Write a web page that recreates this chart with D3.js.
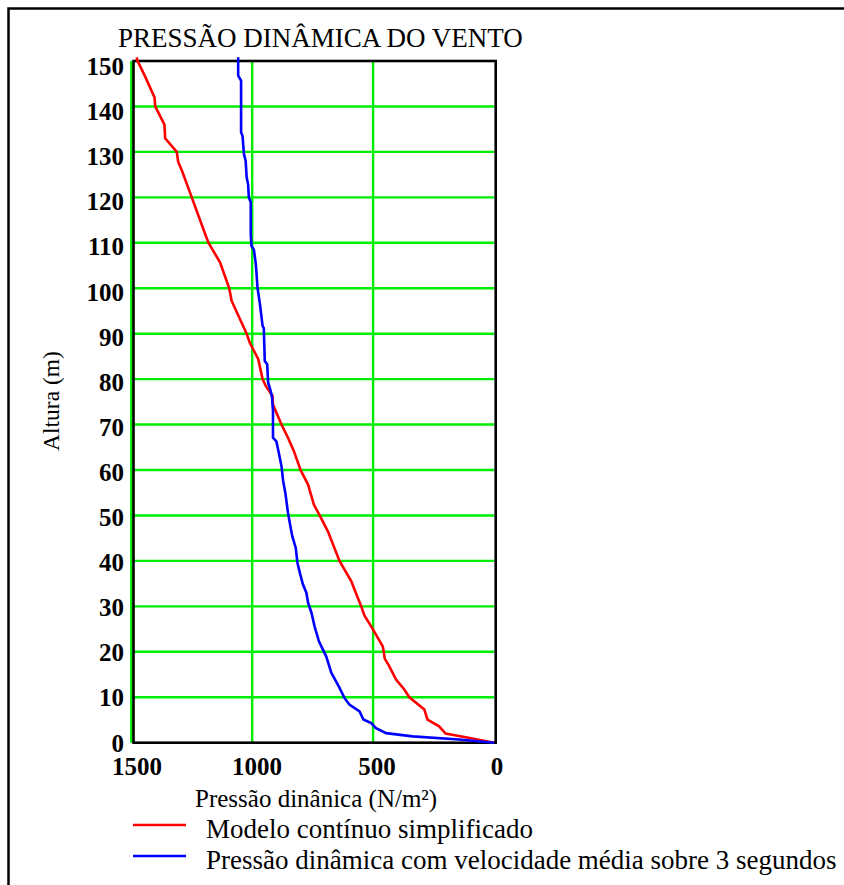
<!DOCTYPE html>
<html>
<head>
<meta charset="utf-8">
<script src="https://cdn.jsdelivr.net/npm/d3@7"></script>
<style>
  body { margin: 0; background: #fff; }
  svg { display: block; }
  text { font-family: "Liberation Serif", "Times New Roman", "DejaVu Serif", serif; fill: #000; }
</style>
</head>
<body>
<div class="container"></div>
<script>
/********** the Data **********/
// heights (m) and dynamic pressure (N/m²)
let redHeights = [0, 1, 2, 3.6, 5.1, 7.3, 10, 11.7, 13.9, 17, 18.5, 20, 21.2, 25.6, 28, 30, 33.7, 35.5, 40,
  46.5, 50, 52.4, 56.8, 60, 64.2, 67.1, 70, 74.4, 76.3, 78.5, 80, 84.4, 88, 90, 97.2, 100, 105.7, 110, 112,
  120, 125.8, 127.8, 130, 133, 136, 140, 142, 146.5, 150, 150.8];
let redPressure = [0, 95, 200, 227, 275, 288, 350, 371, 405, 435, 452, 456, 460, 508, 536, 549, 577, 590, 639,
  687, 721, 745, 769, 800, 828, 852, 879, 914, 916, 944, 957, 975, 1010, 1023, 1085, 1095, 1133, 1181, 1195,
  1250, 1290, 1306, 1312, 1360, 1363, 1401, 1404, 1442, 1474, 1478];

let blueHeights = [0, 0.7, 1.4, 2.1, 3.2, 4.3, 5.1, 6.9, 8.4, 9.8, 12.4, 15.4, 19, 22.3, 25.6, 28.6, 30.8, 33,
  34.8, 37, 39.6, 42.9, 45.4, 47.6, 50.6, 55, 57.6, 60.9, 63.8, 66.3, 67.1, 73, 76, 77.5, 79.2, 83.3, 84,
  91.2, 91.7, 96.5, 100.1, 105.3, 108.5, 109.3, 111.9, 118.9, 120, 122.9, 124.4, 128, 129.5, 133.5, 134.3,
  145.7, 146.8, 150.8];
let bluePressure = [0, 144, 337, 446, 488, 508, 540, 556, 598, 618, 642, 673, 694, 724, 742, 755, 769, 776,
  790, 801, 813, 820, 834, 842, 852, 863, 872, 879, 890, 900, 914, 914, 918, 924, 934, 938, 948,
  952, 957, 968, 978, 985, 993, 1003, 1006, 1006, 1014, 1017, 1023, 1027, 1034, 1040, 1046,
  1046, 1058, 1058];

let xTicks = [1500, 1000, 500, 0];
let yTicks = [0, 10, 20, 30, 40, 50, 60, 70, 80, 90, 100, 110, 120, 130, 140, 150];

let titleText = "PRESSÃO DINÂMICA DO VENTO";
let xLabel = "Pressão dinânica (N/m²)";
let yLabel = "Altura (m)";
let seriesNames = ["Modelo contínuo simplificado", "Pressão dinâmica com velocidade média sobre 3 segundos"];

/********** drawChart function **********/
function drawChart() {
  let width = 844, height = 885;

  let xScale = d3.scaleLinear().domain([1500, 0]).range([131.3, 494]);
  let yScale = d3.scaleLinear().domain([0, 150]).range([742.7, 61]);

  // tick labels sit on a slightly different spacing than the grid
  let xLabelScale = d3.scaleLinear().domain([1500, 0]).range([137, 497]);
  let yLabelScale = d3.scaleLinear().domain([0, 150]).range([743.5, 67]);

  let chart = d3.select(".container")
    .append("svg")
      .attr("class", "chart")
      .attr("width", width)
      .attr("height", height);

  // outer frame (runs off the right and bottom of the picture)
  chart.append("rect")
    .attr("x", 8.5).attr("y", 8.5)
    .attr("width", 860).attr("height", 900)
    .attr("fill", "none").attr("stroke", "#000").attr("stroke-width", 2.5);

  // title
  chart.append("text")
    .attr("x", 118).attr("y", 47)
    .style("font-size", "27px")
    .text(titleText);

  /* grid */
  let grid = chart.append("g").attr("class", "grid")
    .attr("stroke", "#00ee00").attr("stroke-width", 2.4);

  grid.selectAll(".hgrid")
    .data(yTicks.filter(d => d > 0 && d < 150))
    .join("line")
      .attr("x1", xScale(1500)).attr("x2", xScale(0))
      .attr("y1", d => yScale(d)).attr("y2", d => yScale(d));

  grid.selectAll(".vgrid")
    .data(xTicks.filter(d => d > 0))
    .join("line")
      .attr("x1", d => xScale(d)).attr("x2", d => xScale(d))
      .attr("y1", yScale(150)).attr("y2", yScale(0));

  // black plot box
  chart.append("rect")
    .attr("x", xScale(1500) + 2.2).attr("y", yScale(150))
    .attr("width", xScale(0) - xScale(1500) - 0.5)
    .attr("height", yScale(0) - yScale(150))
    .attr("fill", "none").attr("stroke", "#000").attr("stroke-width", 2.6);

  /* tick labels */
  chart.append("g").attr("class", "y-axis")
    .selectAll("text")
    .data(yTicks)
    .join("text")
      .attr("x", 124)
      .attr("y", d => yLabelScale(d) + 8)
      .attr("text-anchor", "end")
      .style("font-size", "25px").style("font-weight", "bold")
      .text(d => d);

  chart.append("g").attr("class", "x-axis")
    .selectAll("text")
    .data(xTicks)
    .join("text")
      .attr("x", d => xLabelScale(d))
      .attr("y", 775)
      .attr("text-anchor", "middle")
      .style("font-size", "25px").style("font-weight", "bold")
      .text(d => d);

  // axis labels
  chart.append("text")
    .attr("x", 195).attr("y", 807)
    .style("font-size", "25px")
    .text(xLabel);

  chart.append("text")
    .attr("transform", "translate(59, 401) rotate(-90)")
    .attr("text-anchor", "middle")
    .style("font-size", "23.5px")
    .text(yLabel);

  /* curves */
  let line = d3.line()
    .x(d => xScale(d[1]))
    .y(d => yScale(d[0]));

  let series = [
    {color: "#ff0000", pts: d3.zip(redHeights, redPressure)},
    {color: "#0000ff", pts: d3.zip(blueHeights, bluePressure)}
  ];

  chart.selectAll(".curve")
    .data(series)
    .join("path")
      .attr("class", "curve")
      .attr("d", d => line(d.pts))
      .attr("fill", "none")
      .attr("stroke", d => d.color)
      .attr("stroke-width", 2.6);

  /* legend */
  let legend = chart.append("g").attr("class", "legend");
  let legY = [825, 856];
  legend.selectAll("line")
    .data(series)
    .join("line")
      .attr("x1", 133).attr("x2", 186)
      .attr("y1", (d, i) => legY[i]).attr("y2", (d, i) => legY[i])
      .attr("stroke", d => d.color).attr("stroke-width", 2.6);

  legend.selectAll("text")
    .data(seriesNames)
    .join("text")
      .attr("x", 206)
      .attr("y", (d, i) => legY[i] + 12.5)
      .style("font-size", "27px")
      .text(d => d);
}

drawChart();
</script>
</body>
</html>
